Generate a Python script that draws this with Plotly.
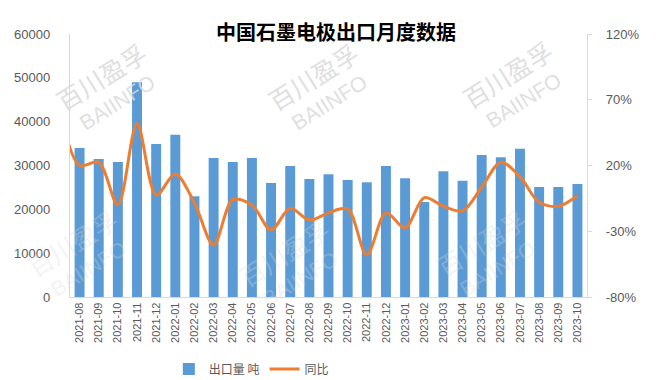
import plotly.graph_objects as go

# Month labels (first one is the preceding month, only used so the smoothed line enters from the axis edge)
months = ["2021-07",
          "2021-08", "2021-09", "2021-10", "2021-11", "2021-12",
          "2022-01", "2022-02", "2022-03", "2022-04", "2022-05", "2022-06",
          "2022-07", "2022-08", "2022-09", "2022-10", "2022-11", "2022-12",
          "2023-01", "2023-02", "2023-03", "2023-04", "2023-05", "2023-06",
          "2023-07", "2023-08", "2023-09", "2023-10"]

# Export volume (tonnes)
export_tons = [None,
               34000, 31500, 30800, 49000, 34900,
               37000, 23000, 31700, 30800, 31700, 26000,
               29900, 26900, 28000, 26700, 26200, 29900,
               27100, 21700, 28700, 26500, 32400, 31900,
               33800, 25100, 25100, 25800]

# Year-on-year change (%)
yoy_pct = [60,
           20, 22.5, -10, 52, -2.5,
           13.5, -8.5, -40.5, -6, -10, -29,
           -12.5, -21.5, -16, -13, -48, -16,
           -27.5, -4.5, -11, -14.5, 3.5, 22.5,
           11.5, -8, -11, -3]

left_ticks = [0, 10000, 20000, 30000, 40000, 50000, 60000]
right_ticks = [-80, -30, 20, 70, 120]

grey = "#595959"
axis_grey = "#d9d9d9"
tick_font = dict(family="Liberation Sans, Arial, sans-serif", size=13, color=grey)

W, H = 650, 372  # page body has an 8px margin

fig = go.Figure()
fig.add_trace(go.Bar(
    x=months, y=export_tons, name="出口量 吨",
    marker=dict(color="#5B9BD5", line=dict(width=0)),
    yaxis="y",
))
fig.add_trace(go.Scatter(
    x=months, y=yoy_pct, name="同比", mode="lines",
    line=dict(color="#ED7D31", width=3, shape="spline", smoothing=0.9),
    yaxis="y2",
))

# Watermarks
wm = []
for (wx, wy, op) in [(0.075, 0.79, 0.85), (0.485, 0.79, 0.85), (0.86, 0.80, 0.85),
                     (0.02, 0.16, 0.3), (0.43, 0.12, 0.3), (0.81, 0.16, 0.3)]:
    wm.append(dict(xref="paper", yref="paper", x=wx, y=wy, xanchor="center", yanchor="middle",
                   text="<span style='font-size:25px'>百川盈孚</span><br>BAIINFO",
                   showarrow=False, textangle=-32,
                   font=dict(family="Liberation Sans, Noto Sans CJK SC", size=21, color="#dadada"),
                   opacity=op, align="center"))

fig.update_layout(
    width=W, height=H,
    margin=dict(l=62, r=71, t=26, b=83, autoexpand=False),
    paper_bgcolor="white", plot_bgcolor="white",
    title=dict(text="<b>中国石墨电极出口月度数据</b>", x=328 / W, xref="container",
               xanchor="center", y=1 - 25 / H, yref="container", yanchor="middle",
               font=dict(family="Noto Sans CJK SC", size=20, color="#000000")),
    bargap=0.48,
    showlegend=True,
    legend=dict(orientation="h", x=228 / W, xanchor="center", y=1 - 361 / H, yref="container",
                yanchor="middle",
                font=dict(family="Noto Sans CJK SC", size=12, color=grey),
                traceorder="normal"),
    xaxis=dict(type="category", range=[0.5, 27.5], tickangle=-90, automargin=False,
               tickfont=dict(family="Liberation Sans, Arial, sans-serif", size=11, color=grey),
               showline=True, linecolor=axis_grey, linewidth=1.3,
               showgrid=False, ticks="", zeroline=False),
    yaxis=dict(range=[0, 60000], tickvals=left_ticks, ticktext=[str(v) for v in left_ticks],
               tickfont=tick_font, showline=True, linecolor=axis_grey, linewidth=1.3,
               showgrid=False, zeroline=False, ticks="", ticklabelstandoff=16, automargin=False),
    yaxis2=dict(range=[-80, 120], tickvals=right_ticks, ticktext=[f"{v}%" for v in right_ticks],
                overlaying="y", side="right", tickfont=tick_font,
                showline=True, linecolor=axis_grey, linewidth=1.3,
                showgrid=False, zeroline=False, ticks="outside", ticklen=4,
                tickcolor=axis_grey, ticklabelstandoff=11, automargin=False),
    annotations=wm,
)

fig.write_html("out.html")
